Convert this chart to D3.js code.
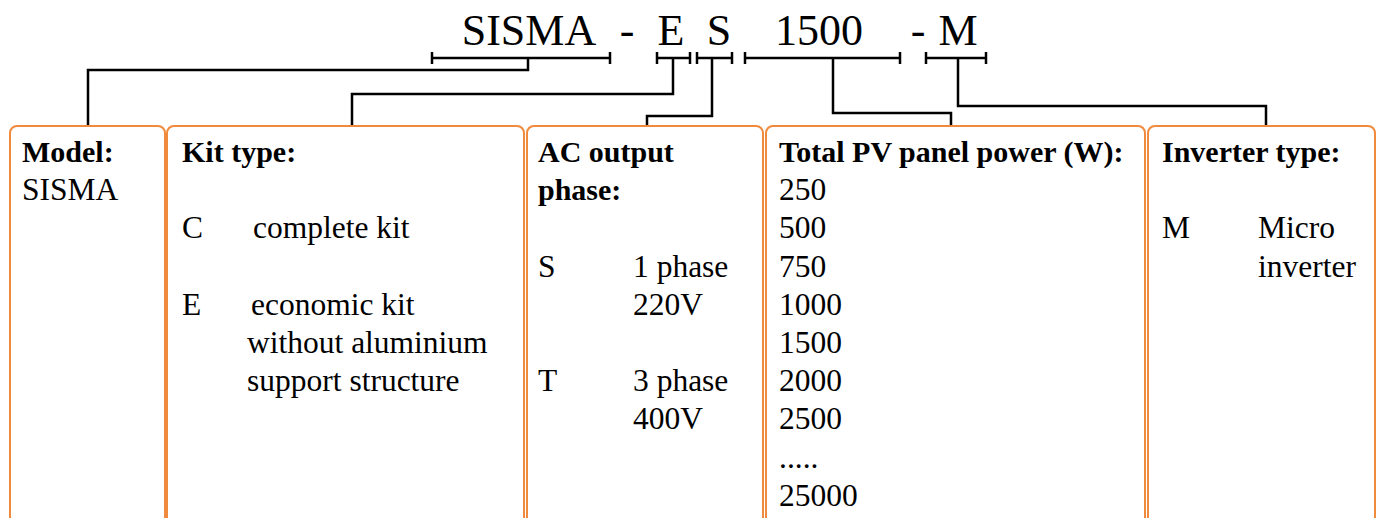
<!DOCTYPE html>
<html>
<head>
<meta charset="utf-8">
<script src="https://cdn.jsdelivr.net/npm/d3@7"></script>
<style>
html,body{margin:0;padding:0;background:#fff;}
svg{display:block;}
</style>
</head>
<body>
<svg id="chart" width="1377" height="518"></svg>
<script>
// ---- data ----
const codeParts = ["SISMA", "-", "E", "S", "1500", "-", "M"];
const boxTitles = [["Model:"], ["Kit type:"], ["AC output", "phase:"], ["Total PV panel power (W):"], ["Inverter type:"]];
const modelNames = ["SISMA"];
const kitCodes = ["C", "E"];
const kitDescriptions = [["complete kit"], ["economic kit", "without aluminium", "support structure"]];
const phaseCodes = ["S", "T"];
const phaseDescriptions = [["1 phase", "220V"], ["3 phase", "400V"]];
const panelPowers = ["250", "500", "750", "1000", "1500", "2000", "2500", ".....", "25000"];
const inverterCodes = ["M"];
const inverterDescriptions = [["Micro", "inverter"]];

// ---- layout ----
const svg = d3.select("#chart");
const W = 1377, H = 518;
const orange = "#F08A3C";
const serif = "'Liberation Serif','Times New Roman',serif";
const rowY = d3.scaleLinear().domain([0, 1]).range([162, 200.2]);

// boxes [x0, x1]
const boxes = [[10, 165], [167, 524], [527, 763], [766, 1145], [1148, 1375]];
const boxTop = 126, rad = 7;

// code part centers and brackets
const partX = [529, 627, 671, 719, 819, 918, 958];
const brackets = [
  {x0: 432, x1: 610, c: 528, elbow: 70, target: 88},
  {x0: 657, x1: 690, c: 673, elbow: 94, target: 352},
  {x0: 697, x1: 732, c: 712, elbow: 116, target: 647},
  {x0: 745, x1: 900, c: 833, elbow: 113, target: 951},
  {x0: 926, x1: 986, c: 958, elbow: 106, target: 1266}
];
const bracketY = 58;

// title code
svg.append("g").selectAll("text").data(codeParts).join("text")
  .attr("x", (d, i) => partX[i]).attr("y", 45)
  .attr("text-anchor", "middle")
  .attr("font-family", serif).attr("font-size", 44).attr("fill", "#000")
  .text(d => d);

// brackets and connectors
const gB = svg.append("g").attr("stroke", "#000").attr("stroke-width", 2.5).attr("fill", "none");
brackets.forEach(b => {
  gB.append("line").attr("x1", b.x0).attr("x2", b.x1).attr("y1", bracketY).attr("y2", bracketY);
  gB.append("line").attr("x1", b.x0).attr("x2", b.x0).attr("y1", bracketY - 6).attr("y2", bracketY + 6);
  gB.append("line").attr("x1", b.x1).attr("x2", b.x1).attr("y1", bracketY - 6).attr("y2", bracketY + 6);
  const p = d3.path();
  p.moveTo(b.c, bracketY);
  p.lineTo(b.c, b.elbow);
  p.lineTo(b.target, b.elbow);
  p.lineTo(b.target, boxTop);
  gB.append("path").attr("d", p.toString()).attr("stroke-linejoin", "miter");
});

// boxes (open at the bottom, extend beyond view)
const gBox = svg.append("g");
boxes.forEach(([x0, x1]) => {
  const p = d3.path();
  const yb = H + 20;
  p.moveTo(x0, yb);
  p.lineTo(x0, boxTop + rad);
  p.arcTo(x0, boxTop, x0 + rad, boxTop, rad);
  p.lineTo(x1 - rad, boxTop);
  p.arcTo(x1, boxTop, x1, boxTop + rad, rad);
  p.lineTo(x1, yb);
  gBox.append("path").attr("d", p.toString()).attr("fill", "none")
    .attr("stroke", orange).attr("stroke-width", 2);
});

// text helpers
function txt(x, row, s, bold) {
  svg.append("text").attr("x", x).attr("y", rowY(row))
    .attr("font-family", serif)
    .attr("font-size", bold ? 30 : 31.5)
    .attr("font-weight", bold ? "bold" : "normal")
    .attr("fill", "#000").text(s);
}

// titles
const titleX = [22, 182, 538, 779, 1162];
boxTitles.forEach((lines, i) => lines.forEach((l, j) => txt(titleX[i], j, l, true)));

// Model
modelNames.forEach((m, i) => txt(22, 1 + i, m, false));

// Kit
const kitRows = [2, 4];
const kitDescX = [[253], [251, 247, 247]];
kitCodes.forEach((c, i) => {
  txt(182, kitRows[i], c, false);
  kitDescriptions[i].forEach((d, j) => txt(kitDescX[i][j], kitRows[i] + j, d, false));
});

// Phase
const phaseRows = [3, 6];
phaseCodes.forEach((c, i) => {
  txt(538, phaseRows[i], c, false);
  phaseDescriptions[i].forEach((d, j) => txt(633, phaseRows[i] + j, d, false));
});

// Panel powers
panelPowers.forEach((p, i) => txt(779, 1 + i, p, false));

// Inverter
inverterCodes.forEach((c, i) => {
  txt(1162, 2, c, false);
  inverterDescriptions[i].forEach((d, j) => txt(1258, 2 + j, d, false));
});
</script>
</body>
</html>
